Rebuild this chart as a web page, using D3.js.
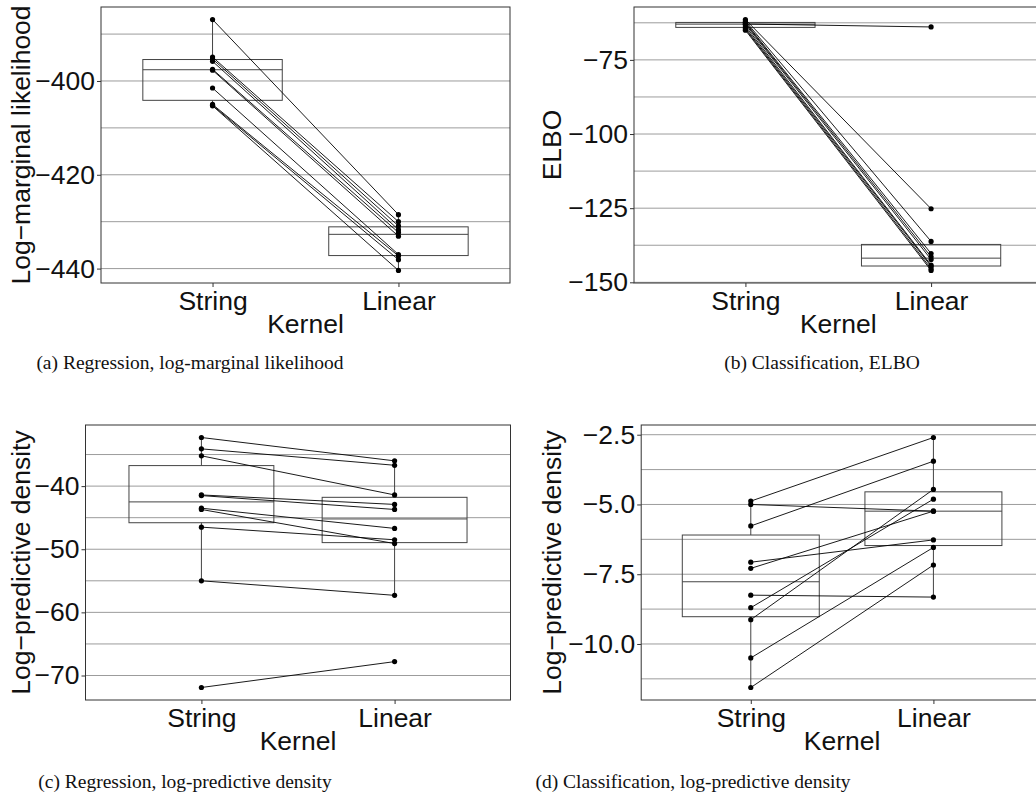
<!DOCTYPE html>
<html>
<head>
<meta charset="utf-8">
<script src="https://cdn.jsdelivr.net/npm/d3@7"></script>
<style>
  body { margin: 0; background: #fff; }
  svg { display: block; }
</style>
</head>
<body>
<svg id="fig" width="1036" height="804"></svg>
<script>
// kernels compared, one value per seed (pairs are joined by a line)
const kernels = ['String', 'Linear'];

// (a) regression, log-marginal likelihood
const regLmlString = [-386.9, -394.9, -395.3, -395.8, -397.5, -397.7, -401.5, -405.0, -405.2, -405.3];
const regLmlLinear = [-428.5, -430.0, -430.9, -431.7, -432.3, -433.1, -437.0, -437.3, -438.1, -440.4];
const regLmlMajor = [-440, -420, -400];
const regLmlMinor = [-450, -430, -410, -390];

// (b) classification, ELBO
const clsElboString = [-61.4, -61.9, -62.3, -62.6, -62.9, -63.0, -63.6, -64.2, -64.6, -65.0];
const clsElboLinear = [-125.2, -136.2, -140.3, -141.4, -63.9, -142.3, -144.2, -144.6, -145.4, -146.0];
const clsElboMajor = [-150, -125, -100, -75];
const clsElboMinor = [-137.5, -112.5, -87.5, -62.5];

// (c) regression, log-predictive density
const regLpdString = [-32.3, -34.1, -35.2, -41.4, -41.5, -43.5, -43.7, -46.5, -55.0, -71.9];
const regLpdLinear = [-36.0, -36.7, -41.4, -42.9, -43.7, -46.7, -49.1, -48.5, -57.3, -67.8];
const regLpdMajor = [-70, -60, -50, -40];
const regLpdMinor = [-75, -65, -55, -45, -35];

// (d) classification, log-predictive density
const clsLpdString = [-4.88, -5.0, -5.77, -7.07, -7.29, -8.25, -8.70, -9.13, -10.5, -11.56];
const clsLpdLinear = [-2.60, -5.24, -3.45, -6.27, -5.24, -8.32, -4.81, -4.46, -6.54, -7.17];
const clsLpdMajor = [-10, -7.5, -5, -2.5];
const clsLpdMinor = [-11.25, -8.75, -6.25, -3.75];

const panels = [
  {s: regLmlString, l: regLmlLinear, major: regLmlMajor, minor: regLmlMinor, fmt: 'd',
   ylab: 'Log\u2212marginal likelihood', caption: '(a) Regression, log-marginal likelihood',
   box: {left: 101, right: 510, top: 7, bottom: 283}, titleX: 29.5, capX: 190, capY: 369},
  {s: clsElboString, l: clsElboLinear, major: clsElboMajor, minor: clsElboMinor, fmt: 'd',
   ylab: 'ELBO', caption: '(b) Classification, ELBO',
   box: {left: 634, right: 1042.5, top: 7, bottom: 283}, titleX: 561, capX: 822, capY: 369},
  {s: regLpdString, l: regLpdLinear, major: regLpdMajor, minor: regLpdMinor, fmt: 'd',
   ylab: 'Log\u2212predictive density', caption: '(c) Regression, log-predictive density',
   box: {left: 85.5, right: 510.5, top: 425, bottom: 700}, titleX: 29.5, capX: 185, capY: 788},
  {s: clsLpdString, l: clsLpdLinear, major: clsLpdMajor, minor: clsLpdMinor, fmt: '.1f',
   ylab: 'Log\u2212predictive density', caption: '(d) Classification, log-predictive density',
   box: {left: 641.2, right: 1043, top: 425, bottom: 700}, titleX: 561, capX: 693, capY: 788}
];

const svg = d3.select('#fig');
const sans = 'Liberation Sans, Arial, sans-serif';

panels.forEach(p => {
  const b = p.box;
  const g = svg.append('g');

  const all = p.s.concat(p.l);
  const [lo, hi] = d3.extent(all);
  const pad = (hi - lo) * 0.05;
  const y = d3.scaleLinear().domain([lo - pad, hi + pad]).range([b.bottom, b.top]);
  const x = d3.scalePoint().domain(kernels).range([b.left, b.right]).padding(0.6);
  const bw = x.step() * 0.75;

  // grid lines (major and minor, horizontal only)
  g.selectAll('line.grid')
    .data(p.major.concat(p.minor).filter(v => y(v) >= b.top && y(v) <= b.bottom))
    .join('line')
    .attr('x1', b.left).attr('x2', b.right)
    .attr('y1', d => y(d)).attr('y2', d => y(d))
    .attr('stroke', '#9c9c9c').attr('stroke-width', 1);

  // boxplots
  [p.s, p.l].forEach((vals, i) => {
    const sorted = vals.slice().sort(d3.ascending);
    const q1 = d3.quantile(sorted, 0.25);
    const med = d3.quantile(sorted, 0.5);
    const q3 = d3.quantile(sorted, 0.75);
    const iqr = q3 - q1;
    const wLo = d3.min(sorted.filter(v => v >= q1 - 1.5 * iqr));
    const wHi = d3.max(sorted.filter(v => v <= q3 + 1.5 * iqr));
    const cx = x(kernels[i]);
    const bg = g.append('g').attr('stroke', '#444').attr('stroke-width', 1).attr('fill', 'none');
    bg.append('line').attr('x1', cx).attr('x2', cx).attr('y1', y(q3)).attr('y2', y(wHi));
    bg.append('line').attr('x1', cx).attr('x2', cx).attr('y1', y(q1)).attr('y2', y(wLo));
    bg.append('rect').attr('x', cx - bw / 2).attr('width', bw)
      .attr('y', y(q3)).attr('height', y(q1) - y(q3));
    bg.append('line').attr('x1', cx - bw / 2).attr('x2', cx + bw / 2)
      .attr('y1', y(med)).attr('y2', y(med));
  });

  // paired lines per seed
  const pairs = p.s.map((v, i) => [v, p.l[i]]);
  g.selectAll('line.pair')
    .data(pairs)
    .join('line')
    .attr('x1', x('String')).attr('x2', x('Linear'))
    .attr('y1', d => y(d[0])).attr('y2', d => y(d[1]))
    .attr('stroke', '#000').attr('stroke-width', 0.9);

  // points
  const pts = p.s.map(v => ['String', v]).concat(p.l.map(v => ['Linear', v]));
  g.selectAll('circle')
    .data(pts)
    .join('circle')
    .attr('cx', d => x(d[0])).attr('cy', d => y(d[1]))
    .attr('r', 2.6).attr('fill', '#000');

  // panel border
  g.append('rect')
    .attr('x', b.left).attr('y', b.top)
    .attr('width', b.right - b.left).attr('height', b.bottom - b.top)
    .attr('fill', 'none').attr('stroke', '#333').attr('stroke-width', 1);

  // axes
  const yAxis = g.append('g')
    .attr('transform', `translate(${b.left},0)`)
    .call(d3.axisLeft(y).tickValues(p.major).tickFormat(d3.format(p.fmt))
      .tickSize(4).tickSizeOuter(0).tickPadding(2));
  const xAxis = g.append('g')
    .attr('transform', `translate(0,${b.bottom})`)
    .call(d3.axisBottom(x).tickSize(4).tickSizeOuter(0).tickPadding(3));
  [yAxis, xAxis].forEach(ax => {
    ax.select('.domain').remove();
    ax.selectAll('.tick line').attr('stroke', '#333');
    ax.selectAll('.tick text')
      .attr('fill', '#111')
      .style('font-family', sans).style('font-size', '26.5px');
  });
  xAxis.selectAll('.tick text').attr('dy', '0.75em');

  // axis titles
  g.append('text')
    .attr('x', (b.left + b.right) / 2)
    .attr('y', b.bottom + 50.3)
    .attr('text-anchor', 'middle')
    .style('font-family', sans).style('font-size', '26.5px').attr('fill', '#111')
    .text('Kernel');
  g.append('text')
    .attr('transform', `translate(${p.titleX},${(b.top + b.bottom) / 2}) rotate(-90)`)
    .attr('text-anchor', 'middle')
    .style('font-family', sans).style('font-size', '26.5px').attr('fill', '#111')
    .text(p.ylab);

  // sub-figure caption
  g.append('text')
    .attr('x', p.capX).attr('y', p.capY)
    .attr('text-anchor', 'middle')
    .style('font-family', 'Liberation Serif, Times New Roman, serif')
    .style('font-size', '19.5px').attr('fill', '#111')
    .text(p.caption);
});
</script>
</body>
</html>
